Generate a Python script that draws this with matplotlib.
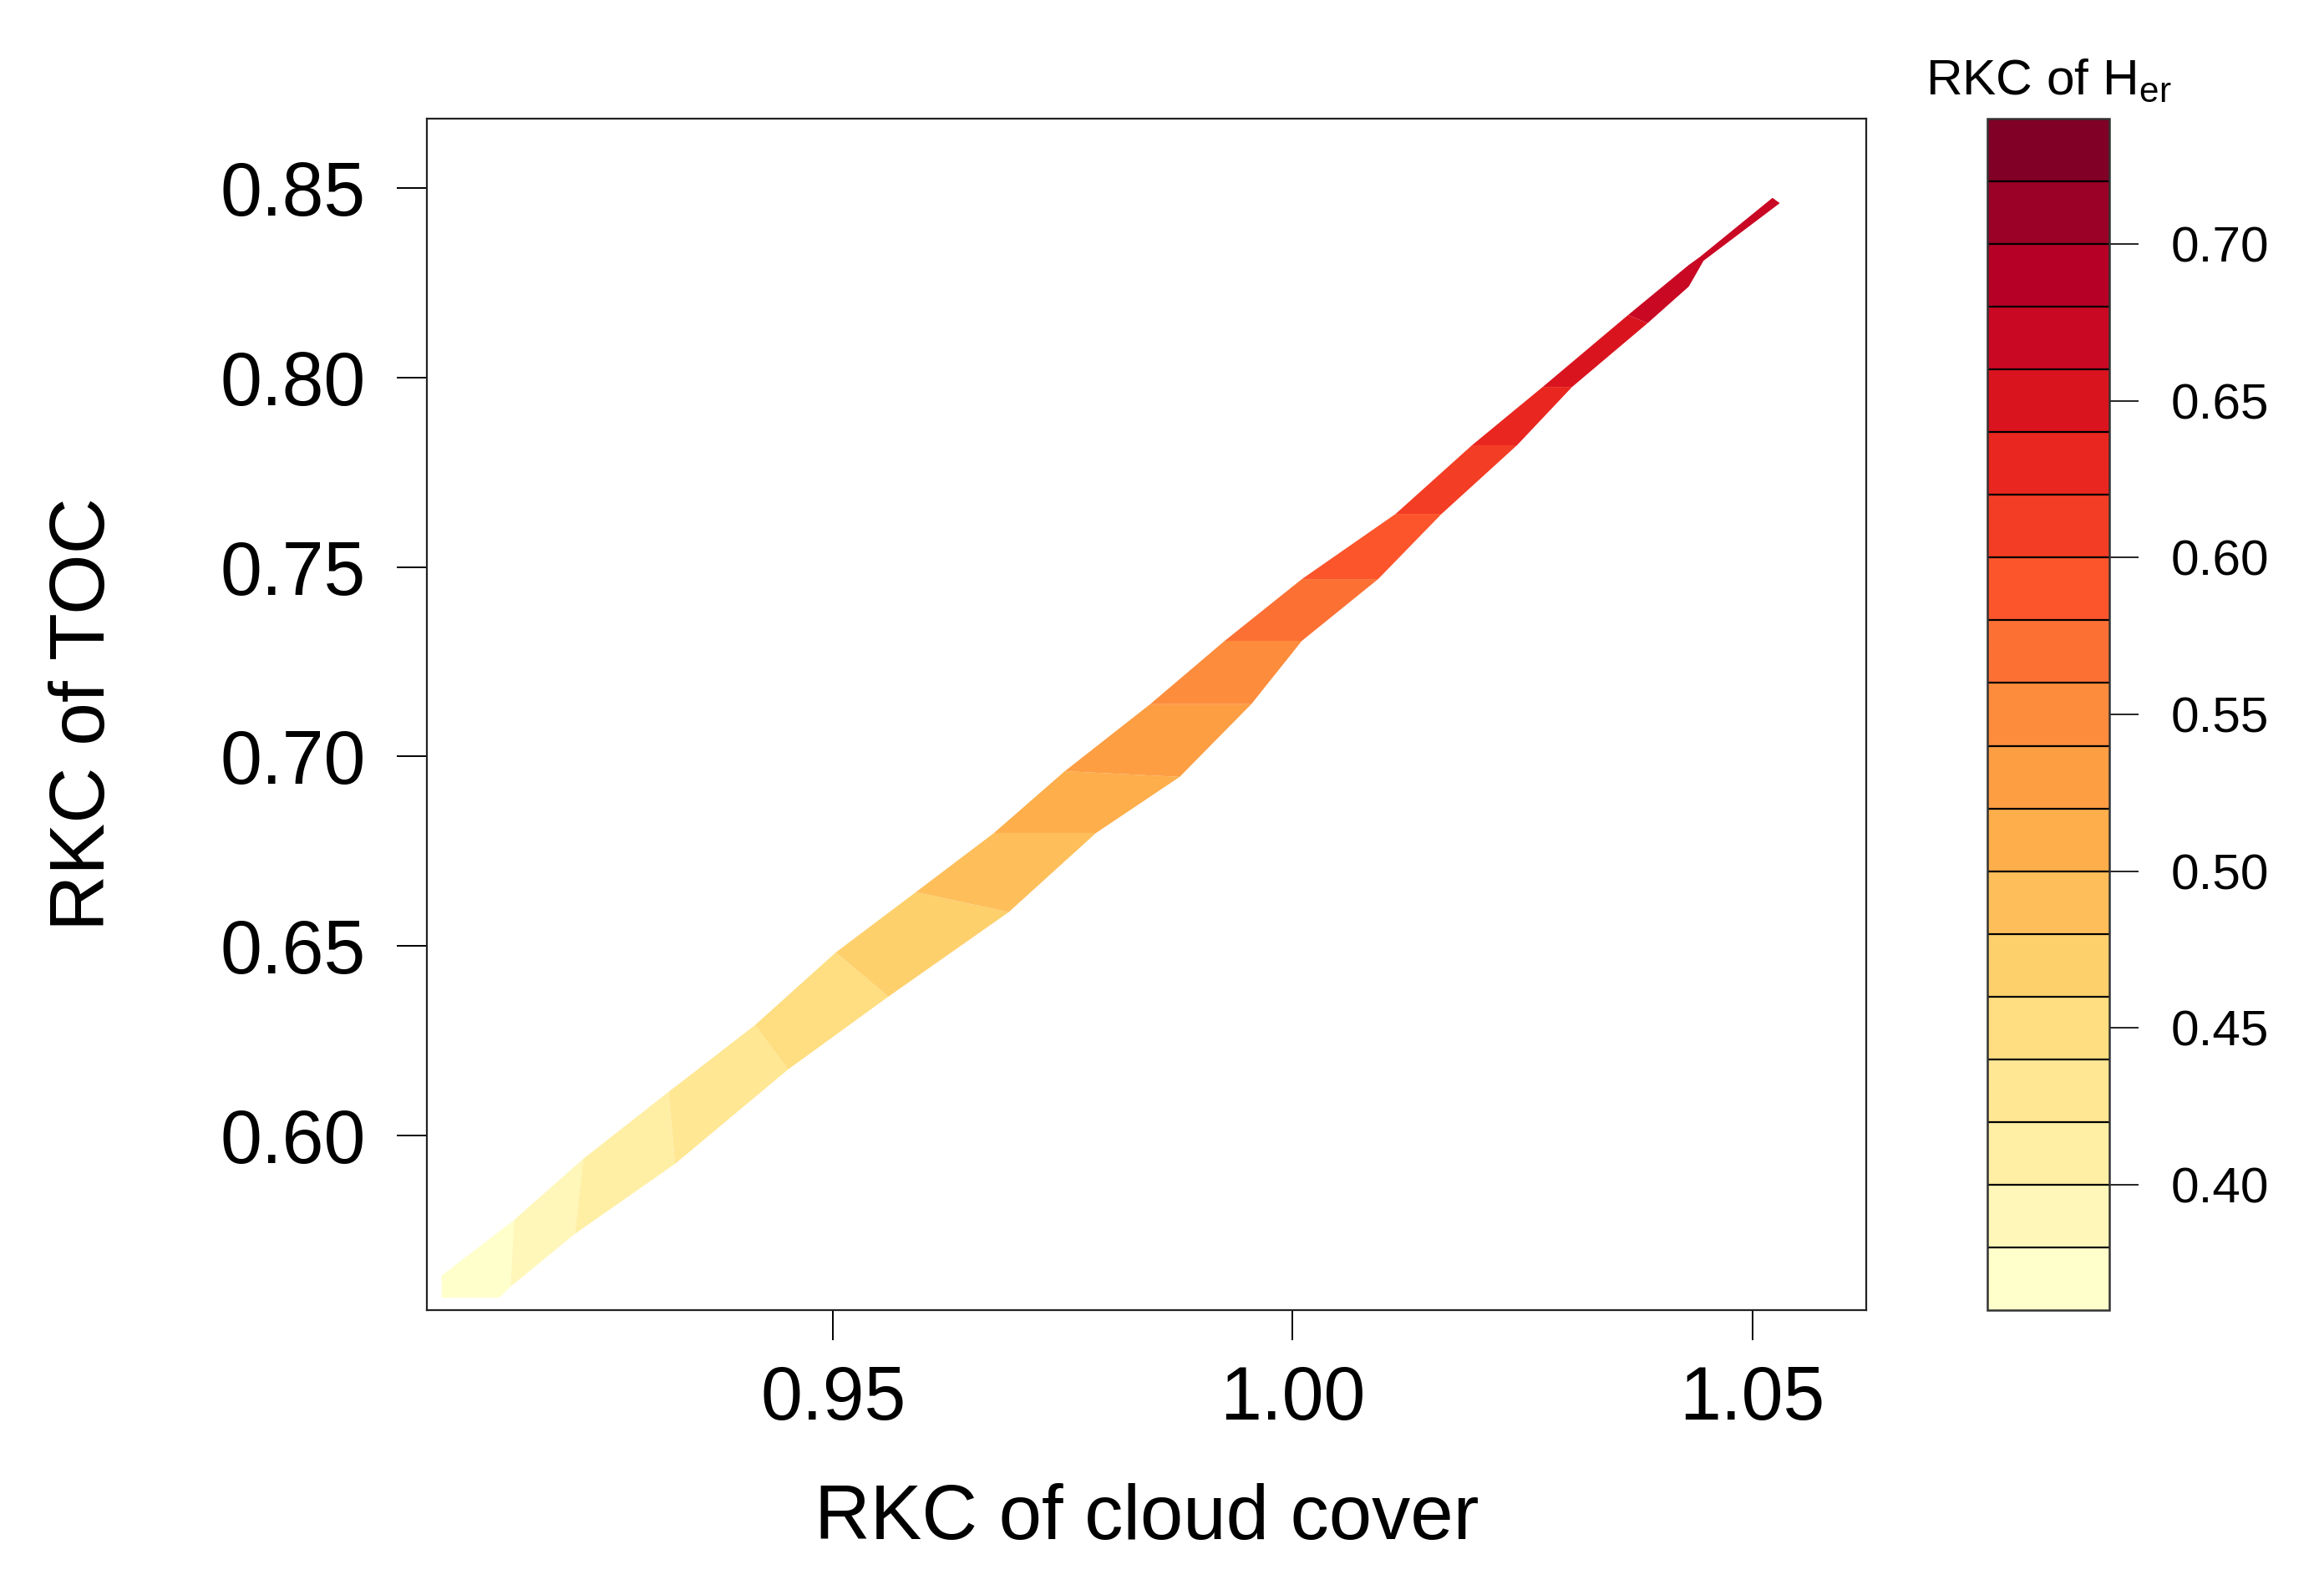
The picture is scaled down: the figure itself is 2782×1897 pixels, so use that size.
import numpy as np
import matplotlib
matplotlib.use('Agg')
import matplotlib.pyplot as plt
import matplotlib.tri as mtri
from matplotlib.ticker import FormatStrFormatter

plt.rcParams['font.family'] = ['Liberation Sans', 'DejaVu Sans']
plt.rcParams['mathtext.fontset'] = 'custom'
plt.rcParams['mathtext.rm'] = 'Liberation Sans'
plt.rcParams['mathtext.it'] = 'Liberation Sans:italic'

# ---------------- data ----------------
# samples along the upper-left edge of the valid region
cloud_upper = [0.9074, 0.9074, 0.9153, 0.9228, 0.9321, 0.9415, 0.9503, 0.9590, 0.9675,
               0.9752, 0.9845, 0.9926, 1.0010, 1.0112, 1.0195, 1.0272, 1.0365, 1.0431,
               1.0443, 1.0522]
toc_upper = [0.5572, 0.5630, 0.5777, 0.5938, 0.6115, 0.6291, 0.6483, 0.6642, 0.6798,
             0.6961, 0.7138, 0.7305, 0.7468, 0.7640, 0.7821, 0.7975, 0.8165, 0.8297,
             0.8318, 0.8474]
her_upper = [0.365, 0.366, 0.38, 0.40, 0.42, 0.44, 0.46, 0.48, 0.50,
             0.52, 0.54, 0.56, 0.58, 0.60, 0.62, 0.64, 0.66, 0.668,
             0.670, 0.678]

# samples along the lower-right edge of the valid region
cloud_lower = [0.9137, 0.9149, 0.9219, 0.9328, 0.9451, 0.9560, 0.9691, 0.9786, 0.9877,
               0.9955, 1.0010, 1.0093, 1.0162, 1.0244, 1.0304, 1.0386, 1.0431, 1.0447,
               1.0530]
toc_lower = [0.5572, 0.5601, 0.5740, 0.5925, 0.6174, 0.6366, 0.6589, 0.6798, 0.6946,
             0.7138, 0.7305, 0.7468, 0.7640, 0.7821, 0.7975, 0.8143, 0.8240, 0.8308,
             0.8460]
her_lower = [0.372, 0.38, 0.40, 0.42, 0.44, 0.46, 0.48, 0.50, 0.52,
             0.54, 0.56, 0.58, 0.60, 0.62, 0.64, 0.66, 0.666, 0.670,
             0.678]

levels = [0.36, 0.38, 0.40, 0.42, 0.44, 0.46, 0.48, 0.50, 0.52, 0.54, 0.56,
          0.58, 0.60, 0.62, 0.64, 0.66, 0.68, 0.70, 0.72, 0.74]
cbar_ticks = [0.40, 0.45, 0.50, 0.55, 0.60, 0.65, 0.70]
x_ticks = [0.95, 1.00, 1.05]
y_ticks = [0.60, 0.65, 0.70, 0.75, 0.80, 0.85]
x_range = (0.9058, 1.0624)
y_range = (0.5539, 0.8683)

# ---------------- figure ----------------
W, H = 2782, 1897
fig = plt.figure(figsize=(W / 100, H / 100), dpi=100)
fig.patch.set_facecolor('white')

ax_l, ax_r, ax_t, ax_b = 511, 2234, 142, 1568
ax = fig.add_axes([ax_l / W, 1 - ax_b / H, (ax_r - ax_l) / W, (ax_b - ax_t) / H])
cb_l, cb_r = 2379, 2525
cax = fig.add_axes([cb_l / W, 1 - ax_b / H, (cb_r - cb_l) / W, (ax_b - ax_t) / H])

colors = plt.get_cmap('YlOrRd')(np.linspace(0, 1, len(levels) - 1))

# build strip triangulation (zipper between both edges)
xu, yu, zu = map(np.asarray, (cloud_upper, toc_upper, her_upper))
xl, yl, zl = map(np.asarray, (cloud_lower, toc_lower, her_lower))
sx = (ax_r - ax_l) / (x_range[1] - x_range[0])
sy = (ax_b - ax_t) / (y_range[1] - y_range[0])
d = np.array([(xu[-1] - xu[0]) * sx, (yu[-1] - yu[0]) * sy])
d = d / np.hypot(*d)
pu = xu * sx * d[0] + yu * sy * d[1]
pl = xl * sx * d[0] + yl * sy * d[1]
nU, nL = len(xu), len(xl)
tris = []
i = j = 0
while i < nU - 1 or j < nL - 1:
    if j == nL - 1 or (i < nU - 1 and pu[i + 1] <= pl[j + 1]):
        tris.append([i, nU + j, i + 1])
        i += 1
    else:
        tris.append([i, nU + j, nU + j + 1])
        j += 1
tri = mtri.Triangulation(np.concatenate([xu, xl]), np.concatenate([yu, yl]),
                         triangles=np.array(tris))
cs = ax.tricontourf(tri, np.concatenate([zu, zl]), levels=levels, colors=colors,
                    antialiased=True)

ax.set_xlim(*x_range)
ax.set_ylim(*y_range)
ax.set_xticks(x_ticks)
ax.set_yticks(y_ticks)
ax.xaxis.set_major_formatter(FormatStrFormatter('%.2f'))
ax.yaxis.set_major_formatter(FormatStrFormatter('%.2f'))
ax.tick_params(axis='both', direction='out', length=26, width=1.4, labelsize=64.5,
               colors='black')
ax.tick_params(axis='x', pad=21)
ax.tick_params(axis='y', pad=27)
for s in ax.spines.values():
    s.set_linewidth(1.6)
    s.set_color('#222222')

fig.text(((ax_l + ax_r) / 2) / W, 1 - 1818 / H, 'RKC of cloud cover',
         ha='center', va='center', fontsize=66.5)
fig.text(101 / W, 1 - ((ax_t + ax_b) / 2) / H, 'RKC of TOC',
         ha='center', va='center', rotation=90, fontsize=67)

# colour key
cb = fig.colorbar(cs, cax=cax, drawedges=True)
cb.set_ticks(cbar_ticks)
cb.ax.yaxis.set_major_formatter(FormatStrFormatter('%.2f'))
cb.ax.tick_params(direction='out', length=25, width=1.2, labelsize=43.5, pad=28)
cb.outline.set_linewidth(1.8)
cb.outline.set_edgecolor('#333333')
cb.dividers.set_color('black')
cb.dividers.set_linewidth(1.6)
fig.text(((cb_l + cb_r) / 2) / W, 1 - 113 / H, r'RKC of H$_{\mathrm{er}}$',
         ha='center', va='baseline', fontsize=43.5)

fig.savefig('out.png', dpi=100, facecolor='white')
